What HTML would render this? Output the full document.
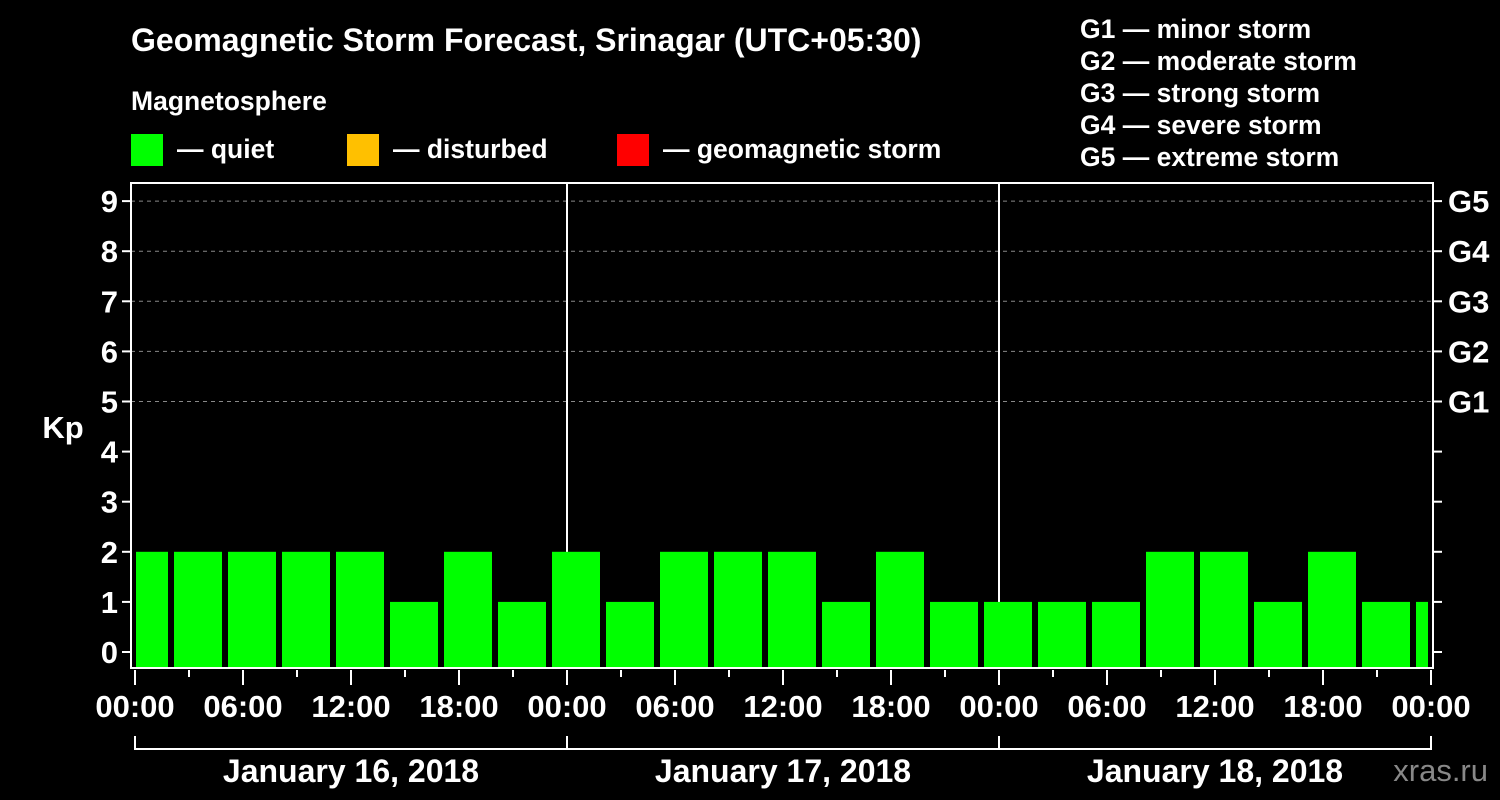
<!DOCTYPE html>
<html><head><meta charset="utf-8"><style>
html,body{margin:0;padding:0;background:#000;}
svg{display:block;font-family:"Liberation Sans",sans-serif;font-weight:bold;}
</style></head><body>
<svg id="c" width="1500" height="800" viewBox="0 0 1500 800">
<rect width="1500" height="800" fill="#000"/>
<text x="131" y="51" fill="#fff" font-size="32">Geomagnetic Storm Forecast, Srinagar (UTC+05:30)</text>
<text x="131" y="110" fill="#fff" font-size="26.5">Magnetosphere</text>
<g><rect x="131" y="134" width="32" height="32" fill="#00ff00"/><text x="177" y="158" fill="#fff" font-size="26.5">— quiet</text></g>
<g><rect x="347" y="134" width="32" height="32" fill="#ffc000"/><text x="393" y="158" fill="#fff" font-size="26.5">— disturbed</text></g>
<g><rect x="617" y="134" width="32" height="32" fill="#ff0000"/><text x="663" y="158" fill="#fff" font-size="26.5">— geomagnetic storm</text></g>
<g fill="#fff" font-size="26.5">
<text x="1080" y="38">G1 — minor storm</text>
<text x="1080" y="70">G2 — moderate storm</text>
<text x="1080" y="102">G3 — strong storm</text>
<text x="1080" y="134">G4 — severe storm</text>
<text x="1080" y="166">G5 — extreme storm</text>
</g>
<text x="63" y="438" fill="#fff" font-size="31" text-anchor="middle">Kp</text>
<text x="1488" y="781" fill="#888" font-size="31" text-anchor="end" font-weight="normal">xras.ru</text>
<defs><clipPath id="pc"><rect x="136" y="183" width="1292" height="485"/></clipPath></defs>
<g id="grid"></g><g id="bars" clip-path="url(#pc)"></g><g id="axes"></g>
</svg>
<script>
const kpValues=[2,2,2,2,2,1,2,1, 2,1,2,2,2,1,2,1, 1,1,1,2,2,1,2,1, 1];
const yTicks=[0,1,2,3,4,5,6,7,8,9];
const gLabels=["G1","G2","G3","G4","G5"];
const xTickLabels=["00:00","06:00","12:00","18:00","00:00","06:00","12:00","18:00","00:00","06:00","12:00","18:00","00:00"];
const dayLabels=["January 16, 2018","January 17, 2018","January 18, 2018"];
const NS="http://www.w3.org/2000/svg";
const L=131,R=1433,T=183,B=668,X0=135,PXH=18;
const y=v=>652-v*50.1;
const x=h=>X0+h*PXH;
function mk(p,tag,a){const e=document.createElementNS(NS,tag);for(const k in a)e.setAttribute(k,a[k]);p.appendChild(e);return e;}
const grid=document.getElementById('grid'),bars=document.getElementById('bars'),axes=document.getElementById('axes');
[5,6,7,8,9].forEach(v=>{const e=mk(grid,'line',{x1:L,x2:R,y1:y(v),y2:y(v),stroke:'#888','stroke-dasharray':'4,4','stroke-width':1});

});
[1,2].forEach(d=>{const e=mk(grid,'line',{x1:x(24*d),x2:x(24*d),y1:T,y2:B,stroke:'#fff','stroke-width':2});

});
kpValues.forEach((v,k)=>{const left=x(3*k)-15;const e=mk(bars,'rect',{x:left,y:y(v),width:48,height:B-y(v),fill:v>=5?'#ff0000':(v>=4?'#ffc000':'#00ff00')});

});
const f=mk(axes,'rect',{x:L,y:T,width:R-L,height:B-T,fill:'none',stroke:'#fff','stroke-width':2});


yTicks.forEach(v=>{mk(axes,'line',{x1:L-9,x2:L,y1:y(v),y2:y(v),stroke:'#fff','stroke-width':2});
mk(axes,'line',{x1:R,x2:R+9,y1:y(v),y2:y(v),stroke:'#fff','stroke-width':2});
const t=mk(axes,'text',{x:L-13,y:y(v)+11,fill:'#fff','font-size':31,'text-anchor':'end'});t.textContent=v;

});
gLabels.forEach((g,i)=>{const t=mk(axes,'text',{x:1448,y:y(5+i)+11,fill:'#fff','font-size':31});t.textContent=g;

});
for(let h=0;h<=72;h+=3){const major=h%6===0;mk(axes,'line',{x1:x(h),x2:x(h),y1:B+2,y2:B+(major?17:9),stroke:'#fff','stroke-width':2});}
xTickLabels.forEach((s,i)=>{const t=mk(axes,'text',{x:x(6*i),y:717,fill:'#fff','font-size':31,'text-anchor':'middle'});t.textContent=s;

});
mk(axes,'line',{x1:x(0),x2:x(72),y1:749,y2:749,stroke:'#fff','stroke-width':2});
[0,1,2,3].forEach(d=>mk(axes,'line',{x1:x(24*d),x2:x(24*d),y1:736,y2:750,stroke:'#fff','stroke-width':2}));
dayLabels.forEach((s,i)=>{const t=mk(axes,'text',{x:x(24*i+12),y:782,fill:'#fff','font-size':32,'text-anchor':'middle'});t.textContent=s;

});
</script>
</body></html>
